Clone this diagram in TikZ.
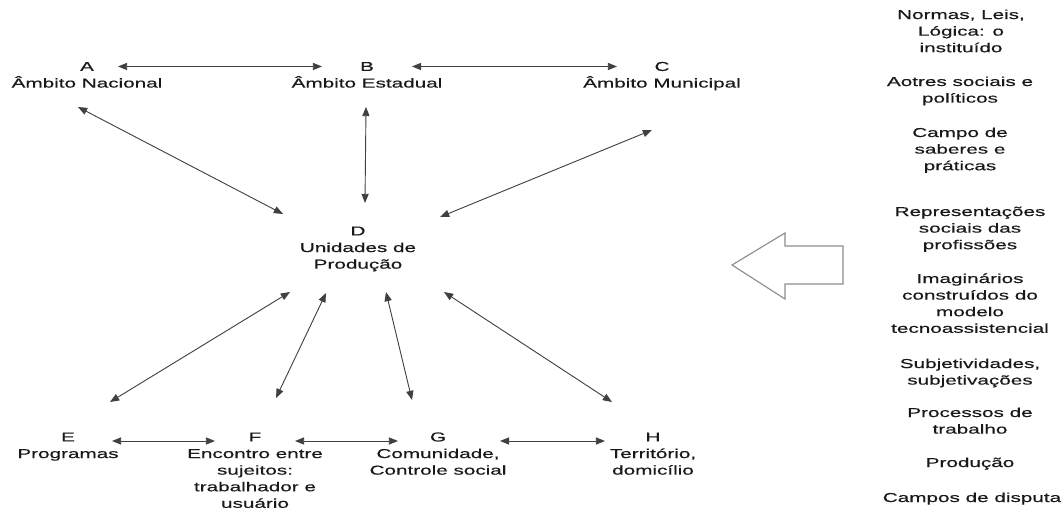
\documentclass[tikz,border=0pt]{standalone}
\usepackage{fontspec}
\setmainfont{Liberation Sans}[FakeStretch=1.6, FakeBold=0.4]
\usetikzlibrary{arrows.meta,positioning}

\tikzset{
	letra/.style={inner sep=0pt, text=black!90, font=\fontsize{9.2}{11.8}\selectfont},
	nome/.style={inner sep=0pt, align=center, text=black!90, font=\fontsize{9.2}{11.8}\selectfont},
	liga/.style={draw=black!75, line width=0.65pt,
		{Triangle[length=2.3mm,width=1.8mm]}-{Triangle[length=2.3mm,width=1.8mm]}},
	seta/.style={draw=black!45, line width=0.8pt, line join=miter},
}

\begin{document}
\begin{tikzpicture}[x=0.025cm, y=0.025cm]

			\useasboundingbox (0,0) rectangle (1064,-510);

			% letras
			\node[letra] (A) at (87, -66.5) {A};
			\node[letra] (B) at (367, -66.5) {B};
			\node[letra] (C) at (662, -66.5) {C};
			\node[letra] (D) at (358, -231) {D};
			\node[letra] (E) at (68, -437) {E};
			\node[letra] (F) at (255, -437) {F};
			\node[letra] (G) at (438, -437) {G};
			\node[letra] (H) at (653, -437) {H};

			% nomes (base = ultima linha)
			\node[nome, below=11.8pt of A.base, anchor=base] (nA) {Âmbito Nacional};
			\node[nome, below=11.8pt of B.base, anchor=base] (nB) {Âmbito Estadual};
			\node[nome, below=11.8pt of C.base, anchor=base] (nC) {Âmbito Municipal};
			\node[nome, below=23.6pt of D.base, anchor=base] (nD) {Unidades de\\Produção};
			\node[nome, below=11.8pt of E.base, anchor=base] (nE) {Programas};
			\node[nome, below=47.2pt of F.base, anchor=base] (nF) {Encontro entre\\sujeitos:\\trabalhador e\\usuário};
			\node[nome, below=23.6pt of G.base, anchor=base] (nG) {Comunidade,\\Controle social};
			\node[nome, below=23.6pt of H.base, anchor=base] (nH) {Território,\\domicílio};

			% ligacoes
			\draw[liga] ([shift={(31,0)}]A.center) -- ([shift={(-45,0)}]B.center);
			\draw[liga] ([shift={(45,0)}]B.center) -- ([shift={(-45,0)}]C.center);
			\draw[liga] ([shift={(-9,-40.5)}]A.center) -- ([shift={(-75,17)}]D.center);
			\draw[liga] ([shift={(-1,-40.5)}]B.center) -- ([shift={(7,28)}]D.center);
			\draw[liga] ([shift={(-10,-63.5)}]C.center) -- ([shift={(82,14)}]D.center);
			\draw[liga] ([shift={(-68,-61)}]D.center) -- ([shift={(42,35)}]E.center);
			\draw[liga] ([shift={(-32,-62)}]D.center) -- ([shift={(21,39)}]F.center);
			\draw[liga] ([shift={(28,-61)}]D.center) -- ([shift={(-26,37)}]G.center);
			\draw[liga] ([shift={(86,-61)}]D.center) -- ([shift={(-41,35)}]H.center);
			\draw[liga] ([shift={(44,-4)}]E.center) -- ([shift={(-40,-4)}]F.center);
			\draw[liga] ([shift={(40,-4)}]F.center) -- ([shift={(-40,-4)}]G.center);
			\draw[liga] ([shift={(62,-4)}]G.center) -- ([shift={(-48,-4)}]H.center);

			% seta grande
			\draw[seta] (732,-265) -- (785,-233) -- (785,-246) -- (843,-246)
				-- (843,-284) -- (785,-284) -- (785,-299) -- cycle;

			% coluna da direita: x / base da 1a linha / n. de linhas / texto
			\foreach \x/\y/\n/\txt [count=\i] in {
					961/19/3/{Normas, Leis,\\Lógica: o\\instituído},
					960/86/2/{Aotres sociais e\\políticos},
					960/137/3/{Campo de\\saberes e\\práticas},
					970/216/3/{Representações\\sociais das\\profissões},
					970/283/4/{Imaginários\\construídos do\\modelo\\tecnoassistencial},
					970/368/2/{Subjetividades,\\subjetivações},
					970/417/2/{Processos de\\trabalho},
					970/467/1/{Produção},
					972/502/1/{Campos de disputa}}
			{
					\node[nome, anchor=base] (r\i) at (\x, {-\y-(\n-1)*16.6}) {\txt};
			}

		\end{tikzpicture}
\end{document}
